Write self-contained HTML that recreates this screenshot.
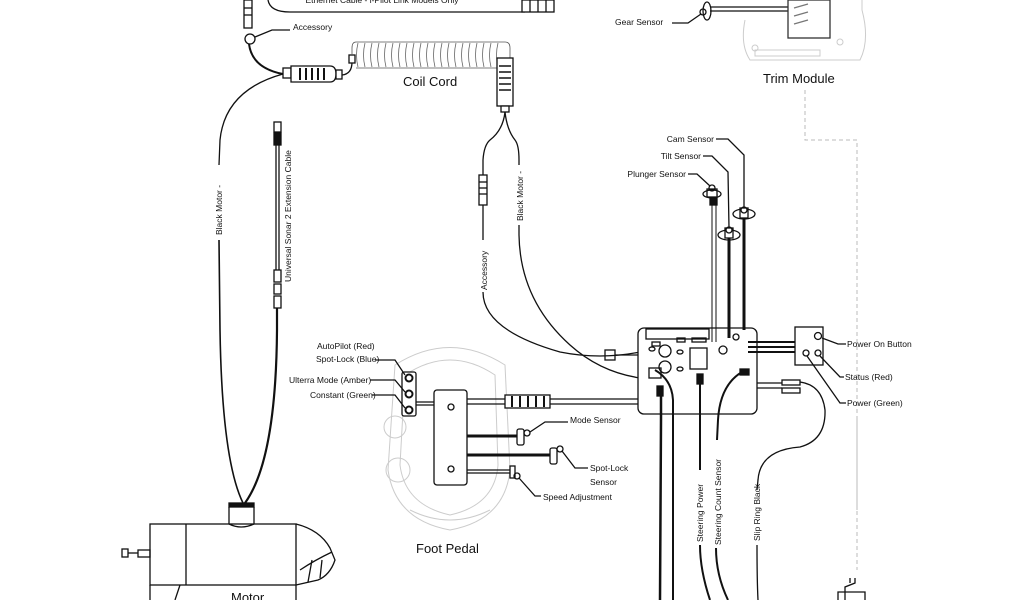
<!DOCTYPE html>
<html><head><meta charset="utf-8"><style>
html,body{margin:0;padding:0;background:#fff;}
svg{display:block;font-family:"Liberation Sans",sans-serif;}
</style></head><body>
<svg width="1024" height="600" viewBox="0 0 1024 600" xmlns="http://www.w3.org/2000/svg">
<g fill="none" stroke="#ccc" stroke-width="1">
 <!-- trim module ghost -->
 <path d="M745 20 Q740 45 750 60 L860 60 Q870 40 862 10 L862 0"/>
 <path d="M755 50 L820 50 L820 56 L755 56 Z"/>
 <circle cx="755" cy="48" r="3"/><circle cx="840" cy="42" r="3"/>
 <!-- foot pedal ghost -->
 <path d="M395 365 Q450 330 505 365 L510 470 Q505 520 450 530 Q395 520 388 470 Z"/>
 <path d="M405 375 Q450 345 495 375 L498 465 Q495 505 450 515 Q405 505 400 465 Z"/>
 <circle cx="395" cy="427" r="11"/><circle cx="398" cy="470" r="12"/>
 <path d="M410 510 Q450 530 490 510"/>
</g>
<g fill="none" stroke="#bbb" stroke-width="1" stroke-dasharray="4,3">
 <path d="M805 90 L805 140 L857 140 L857 510"/>
 <path d="M857 420 L857 570"/>
</g>
<g fill="none" stroke="#111" stroke-width="1.3">
 <!-- ethernet -->
 <path d="M268 0 Q270 12 290 12 L525 12"/>
 <rect x="522" y="0" width="32" height="12" fill="#fff"/>
 <line x1="530" y1="0" x2="530" y2="12"/><line x1="538" y1="0" x2="538" y2="12"/><line x1="546" y1="0" x2="546" y2="12"/>
 <!-- left connector -->
 <rect x="244" y="0" width="8" height="28" fill="#fff"/>
 <line x1="244" y1="8" x2="252" y2="8"/><line x1="244" y1="15" x2="252" y2="15"/>
 <circle cx="250" cy="39" r="5"/>
 <path d="M255 37 L272 30 L290 30"/>
 <path d="M249 44 Q252 68 283 74" stroke-width="2"/>
 <!-- coil connector -->
 <rect x="283" y="68" width="8" height="10" fill="#fff"/>
 <path d="M291 66 L330 66 Q336 66 336 74 Q336 82 330 82 L291 82 Z" fill="#fff"/>
 <g stroke-width="2"><line x1="300" y1="68" x2="300" y2="80"/><line x1="306" y1="68" x2="306" y2="80"/><line x1="312" y1="68" x2="312" y2="80"/><line x1="318" y1="68" x2="318" y2="80"/><line x1="324" y1="68" x2="324" y2="80"/></g>
 <rect x="336" y="70" width="6" height="9" fill="#fff"/>
 <path d="M342 75 Q352 74 352 62 L352 58"/>
 <rect x="349" y="55" width="6" height="8" fill="#fff"/>
 <!-- coil -->
 <g stroke="#555" stroke-width="0.8">
  <path d="M352 55 L352 48 Q352 42 356 42 L505 42 Q510 42 510 48 L510 58"/>
  <path d="M356 68 L505 68"/>
 </g>
 <g stroke="#666" stroke-width="0.8">
  <path d="M358 43 Q355 55 358 67 M365 43 Q362 55 365 67 M372 43 Q369 55 372 67 M379 43 Q376 55 379 67 M386 43 Q383 55 386 67 M393 43 Q390 55 393 67 M400 43 Q397 55 400 67 M407 43 Q404 55 407 67 M414 43 Q411 55 414 67 M421 43 Q418 55 421 67 M428 43 Q425 55 428 67 M435 43 Q432 55 435 67 M442 43 Q439 55 442 67 M449 43 Q446 55 449 67 M456 43 Q453 55 456 67 M463 43 Q460 55 463 67 M470 43 Q467 55 470 67 M477 43 Q474 55 477 67 M484 43 Q481 55 484 67 M491 43 Q488 55 491 67 M498 43 Q495 55 498 67"/>
 </g>
 <!-- right coil connector -->
 <rect x="497" y="58" width="16" height="48" fill="#fff"/>
 <g stroke-width="1.5"><line x1="499" y1="66" x2="511" y2="66"/><line x1="499" y1="72" x2="511" y2="72"/><line x1="499" y1="78" x2="511" y2="78"/><line x1="499" y1="84" x2="511" y2="84"/><line x1="499" y1="90" x2="511" y2="90"/></g>
 <rect x="501" y="106" width="8" height="6" fill="#fff"/>
 <!-- split -->
 <path d="M505 112 Q503 130 490 140 Q484 145 483 160 L483 175"/>
 <path d="M505 112 Q507 130 515 140 Q519 145 519 160 L519 165"/>
 <rect x="479" y="175" width="8" height="30" fill="#fff"/>
 <line x1="479" y1="182" x2="487" y2="182"/><line x1="479" y1="188" x2="487" y2="188"/><line x1="479" y1="194" x2="487" y2="194"/>
 <path d="M483 205 L483 240"/>
 <path d="M483 292 Q483 330 560 352 Q600 360 640 352"/>
 <path d="M519 225 L519 235 Q520 300 570 345 Q600 372 640 378"/>
 <!-- left black motor -->
 <path d="M283 74 Q225 90 220 140 L219 165"/>
 <path d="M219 240 L220 330 Q222 460 243 503" stroke-width="1.6"/>
 <!-- sonar cable -->
 <rect x="274" y="122" width="7" height="10" fill="#fff"/>
 <rect x="274" y="133" width="7" height="12" fill="#111"/>
 <line x1="276" y1="145" x2="276" y2="270"/><line x1="279" y1="145" x2="279" y2="270"/>
 <rect x="274" y="270" width="7" height="12" fill="#fff"/>
 <rect x="274" y="284" width="7" height="10" fill="#fff"/>
 <rect x="274" y="296" width="7" height="12" fill="#fff"/>
 <path d="M277 308 L277 330 Q276 460 245 503" stroke-width="2.2"/>
 <!-- motor -->
 <rect x="229" y="503" width="25" height="4" fill="#111"/>
 <path d="M229 507 L229 524 M254 507 L254 524 M229 524 Q241 530 254 524"/>
 <rect x="150" y="524" width="146" height="61" fill="none"/>
 <line x1="186" y1="524" x2="186" y2="585"/>
 <path d="M296 524 Q320 530 330 548 L335 560 Q330 575 318 580 L296 585"/>
 <path d="M300 570 Q315 560 332 552 M308 582 L312 560 M320 578 L322 560"/>
 <rect x="138" y="550" width="12" height="7"/>
 <rect x="122" y="549" width="6" height="8"/>
 <line x1="128" y1="553" x2="138" y2="553"/>
 <path d="M150 585 L150 600 M180 585 L175 600 M296 585 L296 600"/>
 <!-- foot pedal -->
 <rect x="402" y="372" width="14" height="44" rx="2" fill="#fff"/>
 <circle cx="409" cy="378" r="3.5" stroke-width="2"/><circle cx="409" cy="394" r="3.5" stroke-width="2"/><circle cx="409" cy="410" r="3.5" stroke-width="2"/>
 <path d="M375 360 L395 360 L405 375"/>
 <path d="M370 380 L395 380 L405 392"/>
 <path d="M372 395 L395 395 L405 408"/>
 <line x1="416" y1="402" x2="434" y2="402"/><line x1="416" y1="405" x2="434" y2="405"/>
 <rect x="434" y="390" width="33" height="95" rx="3" fill="#fff"/>
 <circle cx="451" cy="407" r="3"/><circle cx="451" cy="469" r="3"/>
 <line x1="467" y1="399" x2="505" y2="399"/><line x1="467" y1="404" x2="505" y2="404"/>
 <rect x="505" y="395" width="45" height="13" fill="#fff"/>
 <g stroke-width="2"><line x1="512" y1="396" x2="512" y2="407"/><line x1="520" y1="396" x2="520" y2="407"/><line x1="528" y1="396" x2="528" y2="407"/><line x1="536" y1="396" x2="536" y2="407"/><line x1="544" y1="396" x2="544" y2="407"/></g>
 <line x1="550" y1="399" x2="640" y2="399"/><line x1="550" y1="404" x2="640" y2="404"/>
 <g stroke-width="3"><line x1="467" y1="436" x2="518" y2="436"/><line x1="467" y1="455" x2="550" y2="455"/></g>
 <rect x="517" y="429" width="7" height="16" rx="2" fill="#fff"/><circle cx="507" cy="433" r="0"/>
 <circle cx="527" cy="433" r="3"/><path d="M530 432 L545 422 L568 422"/>
 <rect x="550" y="448" width="7" height="16" rx="2" fill="#fff"/>
 <circle cx="560" cy="449" r="3"/><path d="M562 451 L575 468 L588 468"/>
 <line x1="467" y1="470" x2="512" y2="470"/><line x1="467" y1="473" x2="512" y2="473"/>
 <rect x="510" y="466" width="5" height="12" fill="#fff"/>
 <circle cx="517" cy="476" r="3"/><path d="M519 478 L535 496 L541 496"/>
 <!-- control box -->
 <rect x="638" y="328" width="119" height="86" rx="6" fill="#fff"/>
 <rect x="646" y="329" width="63" height="10" fill="#fff"/>
 <rect x="652" y="342" width="8" height="4"/><rect x="677" y="338" width="8" height="4"/><rect x="692" y="338" width="14" height="4"/>
 <circle cx="665" cy="351" r="6"/><circle cx="665" cy="367" r="6"/>
 <ellipse cx="652" cy="349" rx="3" ry="2"/><ellipse cx="680" cy="352" rx="3" ry="2"/><ellipse cx="680" cy="369" rx="3" ry="2"/>
 <rect x="690" y="348" width="17" height="21"/>
 <circle cx="723" cy="350" r="4"/><circle cx="736" cy="337" r="3"/>
 <rect x="649" y="368" width="12" height="10"/>
 <rect x="605" y="350" width="10" height="10"/><line x1="615" y1="355" x2="638" y2="355"/>
 <rect x="657" y="386" width="6" height="10" fill="#111"/>
 <rect x="697" y="374" width="6" height="10" fill="#111"/>
 <rect x="740" y="369" width="9" height="6" fill="#111"/>
 <!-- sensors -->
 <line x1="712" y1="197" x2="712" y2="342" stroke-width="1"/><line x1="716" y1="197" x2="716" y2="342" stroke-width="1"/>
 <rect x="710" y="195" width="7" height="10" fill="#111"/>
 <rect x="707" y="189" width="10" height="8" fill="#fff"/><circle cx="712" cy="188" r="3"/>
 <ellipse cx="712" cy="194" rx="9" ry="4"/>
 <path d="M688 174 L697 174 L710 186"/>
 <line x1="729" y1="232" x2="729" y2="338" stroke-width="3"/>
 <ellipse cx="729" cy="235" rx="11" ry="5"/><rect x="725" y="228" width="8" height="10" fill="#fff"/><circle cx="729" cy="230" r="3"/>
 <path d="M703 156 L712 156 L728 172 L729 228"/>
 <line x1="744" y1="212" x2="744" y2="330" stroke-width="3"/>
 <ellipse cx="744" cy="214" rx="11" ry="5"/><rect x="740" y="208" width="8" height="10" fill="#fff"/><circle cx="744" cy="210" r="3"/>
 <path d="M716 139 L728 139 L744 155 L744 207"/>
 <!-- power module -->
 <g stroke-width="2"><line x1="748" y1="342" x2="798" y2="342"/><line x1="748" y1="347" x2="798" y2="347"/><line x1="748" y1="352" x2="798" y2="352"/></g>
 <rect x="795" y="327" width="28" height="38" fill="#fff"/>
 <circle cx="818" cy="336" r="3.5"/><circle cx="806" cy="353" r="3"/><circle cx="818" cy="353" r="3"/>
 <path d="M822 338 L838 344 L846 344"/>
 <path d="M820 356 L840 377 L844 377"/>
 <path d="M807 356 L840 403 L846 403"/>
 <!-- slip ring connectors -->
 <line x1="757" y1="383" x2="782" y2="383"/><line x1="757" y1="388" x2="782" y2="388"/>
 <rect x="782" y="380" width="18" height="5"/><rect x="782" y="388" width="18" height="5"/>
 <path d="M800 382 Q822 385 825 410 Q826 440 800 447 Q760 450 758 480 L757 490"/>
 <path d="M757 545 Q757 580 758 600"/>
 <!-- bottom wires -->
 <path d="M661 387 Q661 395 661 420 L660 600" stroke-width="2.5"/>
 <path d="M655 370 Q672 380 673 400 L673 600" stroke-width="2"/>
 <line x1="700" y1="380" x2="700" y2="470" stroke-width="2"/>
 <path d="M700 545 Q700 570 710 600" stroke-width="2"/>
 <path d="M742 372 Q720 385 718 420 L717 440" stroke-width="2"/>
 <path d="M716 548 Q716 575 728 600" stroke-width="2"/>
 <!-- bottom right object -->
 <path d="M845 600 L845 587 L855 583 L855 578 M850 578 L850 583 M838 600 L838 592 L865 592 L865 600"/>
 <!-- gear sensor -->
 <ellipse cx="707" cy="11" rx="4" ry="9"/><circle cx="703" cy="12" r="3"/>
 <line x1="710" y1="7" x2="790" y2="7"/><line x1="710" y1="11" x2="790" y2="11"/>
 <path d="M672 23 L688 23 L701 14"/>
 <rect x="788" y="0" width="42" height="38" fill="#fff" stroke="#333"/>
 <path d="M794 8 L808 4 M794 16 L808 12 M794 24 L808 20" stroke="#777"/>
</g>
<g fill="#111" font-size="8.5">
 <text x="382" y="3" text-anchor="middle" font-size="8.5">Ethernet Cable - i-Pilot Link Models Only</text>
 <text x="293" y="30">Accessory</text>
 <text x="317" y="349">AutoPilot (Red)</text>
 <text x="316" y="362">Spot-Lock (Blue)</text>
 <text x="289" y="383">Ulterra Mode (Amber)</text>
 <text x="310" y="398">Constant (Green)</text>
 <text x="570" y="423">Mode Sensor</text>
 <text x="590" y="471">Spot-Lock</text>
 <text x="590" y="485">Sensor</text>
 <text x="543" y="500">Speed Adjustment</text>
 <text x="714" y="142" text-anchor="end">Cam Sensor</text>
 <text x="701" y="159" text-anchor="end">Tilt Sensor</text>
 <text x="686" y="177" text-anchor="end">Plunger Sensor</text>
 <text x="847" y="347">Power On Button</text>
 <text x="845" y="380">Status (Red)</text>
 <text x="847" y="406">Power (Green)</text>
 <text x="615" y="25">Gear Sensor</text>
 <text transform="translate(222,235) rotate(-90)">Black Motor -</text>
 <text transform="translate(291,282) rotate(-90)">Universal Sonar 2 Extension Cable</text>
 <text transform="translate(487,290) rotate(-90)">Accessory</text>
 <text transform="translate(523,221) rotate(-90)">Black Motor -</text>
 <text transform="translate(703,542) rotate(-90)">Steering Power</text>
 <text transform="translate(721,545) rotate(-90)">Steering Count Sensor</text>
 <text transform="translate(760,541) rotate(-90)">Slip Ring Black -</text>
 <text x="403" y="86" font-size="13">Coil Cord</text>
 <text x="416" y="553" font-size="13">Foot Pedal</text>
 <text x="763" y="83" font-size="13">Trim Module</text>
 <text x="231" y="602" font-size="13">Motor</text>
</g>
</svg>
</body></html>
